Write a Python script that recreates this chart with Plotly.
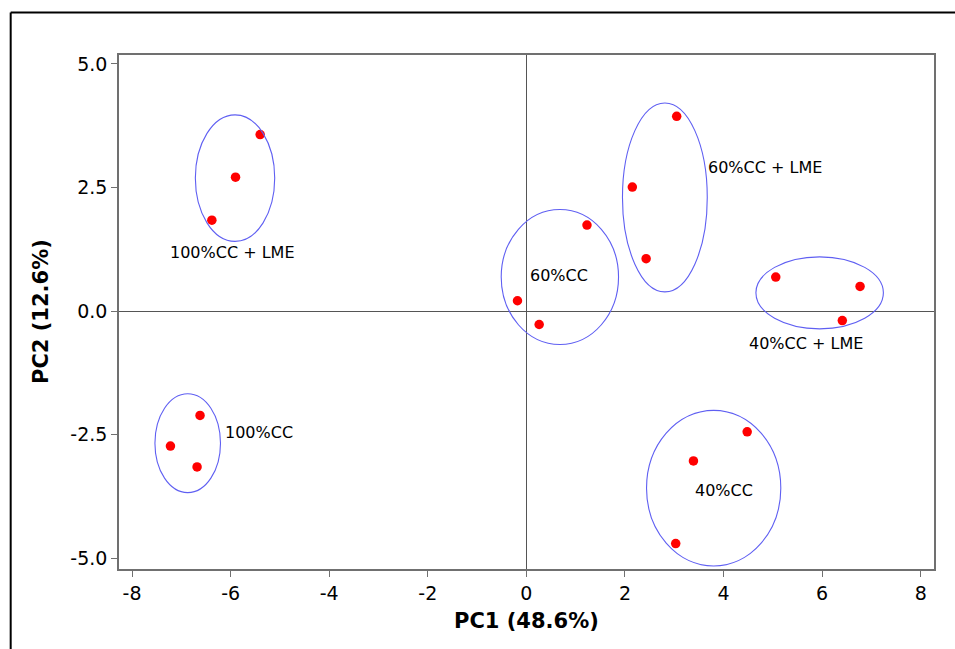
import plotly.graph_objects as go

# PCA scores for each treatment group (PC1, PC2)
groups = ["100%CC + LME", "100%CC", "60%CC", "60%CC + LME", "40%CC + LME", "40%CC"]
pc1 = [
    [-5.40, -5.90, -6.38],
    [-6.62, -7.22, -6.68],
    [1.23, -0.18, 0.26],
    [3.05, 2.15, 2.43],
    [5.06, 6.77, 6.41],
    [4.48, 3.39, 3.03],
]
pc2 = [
    [3.57, 2.71, 1.84],
    [-2.11, -2.73, -3.15],
    [1.74, 0.21, -0.27],
    [3.94, 2.51, 1.06],
    [0.69, 0.50, -0.19],
    [-2.44, -3.03, -4.70],
]

# Group ellipses: centre (x, y) and semi-axes (rx, ry) in score units
ell_cx = [-5.91, -6.87, 0.68, 2.81, 5.95, 3.80]
ell_cy = [2.69, -2.67, 0.69, 2.30, 0.37, -3.58]
ell_rx = [0.805, 0.665, 1.19, 0.86, 1.293, 1.362]
ell_ry = [1.28, 1.00, 1.365, 1.91, 0.728, 1.574]

# Group label anchors
lab_x = [-5.97, -5.43, 0.66, 4.84, 5.67, 4.01]
lab_y = [1.18, -2.45, 0.72, 2.90, -0.66, -3.63]

x_ticks = [-8, -6, -4, -2, 0, 2, 4, 6, 8]
y_ticks = [-5.0, -2.5, 0.0, 2.5, 5.0]

FONT = "DejaVu Sans"

fig = go.Figure()

all_x = [v for g in pc1 for v in g]
all_y = [v for g in pc2 for v in g]
fig.add_trace(go.Scatter(
    x=all_x, y=all_y, mode="markers",
    marker=dict(color="#ff0000", size=9.5),
    showlegend=False, hoverinfo="x+y",
))

shapes = []
for cx, cy, rx, ry in zip(ell_cx, ell_cy, ell_rx, ell_ry):
    shapes.append(dict(
        type="circle", xref="x", yref="y",
        x0=cx - rx, x1=cx + rx, y0=cy - ry, y1=cy + ry,
        line=dict(color="#5f5ff2", width=1.1), layer="above",
    ))

# Outer frame strokes along the top and left of the figure
shapes.append(dict(type="line", xref="paper", yref="paper",
                   x0=-0.1329, x1=1.05, y0=1.0829, y1=1.0829,
                   line=dict(color="black", width=2)))
shapes.append(dict(type="line", xref="paper", yref="paper",
                   x0=-0.1329, x1=-0.1329, y0=1.0829, y1=-0.2,
                   line=dict(color="black", width=2)))

annotations = []
for name, lx, ly in zip(groups, lab_x, lab_y):
    annotations.append(dict(
        x=lx, y=ly, xref="x", yref="y", text=name, showarrow=False,
        font=dict(family=FONT, size=16, color="black"),
        xanchor="center", yanchor="middle",
    ))

annotations.append(dict(
    x=0.5, y=0, xref="paper", yref="paper", text="<b>PC1 (48.6%)</b>",
    showarrow=False, xanchor="center", yanchor="middle", yshift=-52,
    font=dict(family=FONT, size=21, color="black"),
))
annotations.append(dict(
    x=0, y=0.5, xref="paper", yref="paper", text="<b>PC2 (12.6%)</b>",
    showarrow=False, xanchor="center", yanchor="middle", xshift=-78,
    textangle=-90, font=dict(family=FONT, size=21, color="black"),
))

axis_common = dict(
    showgrid=False, showline=True, linecolor="#707070", linewidth=1.5,
    mirror=True, ticks="outside", tickcolor="#707070", ticklen=6,
    zeroline=True, zerolinecolor="#555555", zerolinewidth=1,
    tickfont=dict(family=FONT, size=19, color="black"),
)

fig.update_layout(
    width=955, height=649,
    margin=dict(l=119, r=21, t=55, b=80),
    paper_bgcolor="white", plot_bgcolor="white",
    shapes=shapes, annotations=annotations,
    xaxis=dict(range=[-8.264, 8.27], tickvals=x_ticks,
               ticktext=[str(v) for v in x_ticks], **axis_common),
    yaxis=dict(range=[-5.215, 5.18], tickvals=y_ticks,
               ticktext=[f"{v:.1f}" for v in y_ticks], **axis_common),
)

fig.write_html("out.html")
